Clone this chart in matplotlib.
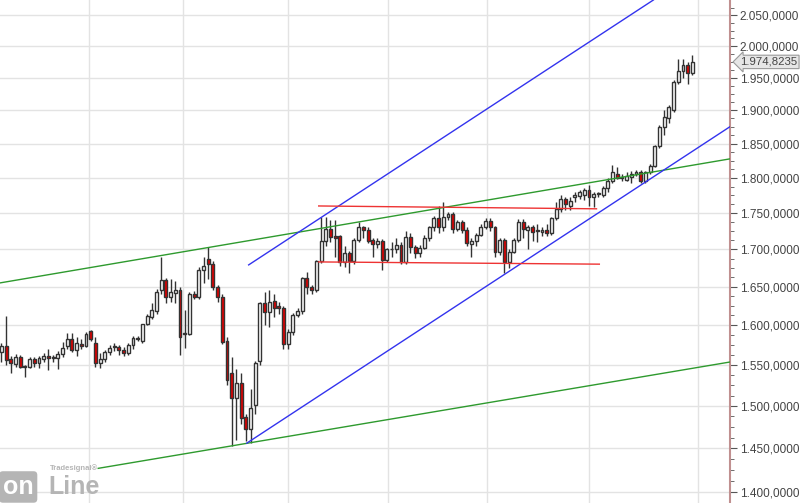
import matplotlib
matplotlib.use("Agg")
import matplotlib.pyplot as plt
from matplotlib.ticker import FixedLocator, FuncFormatter, NullFormatter
import numpy as np

# daily candles: open, high, low, close
opens = [1566, 1574, 1557, 1551, 1560, 1549, 1548, 1557, 1552, 1557, 1561, 1560, 1559, 1564, 1574, 1583, 1568, 1576, 1574, 1593,
         1578, 1552, 1557, 1566, 1573, 1572, 1569, 1565, 1575, 1584, 1580, 1601, 1611, 1618, 1645, 1659, 1636, 1642, 1645, 1590,
         1589, 1641, 1637, 1672, 1687, 1680, 1650, 1636, 1580, 1540, 1510, 1528, 1487, 1473, 1501, 1555, 1628, 1617, 1631, 1625,
         1622, 1576, 1591, 1613, 1618, 1661, 1649, 1645, 1684, 1711, 1728, 1718, 1718, 1683, 1695, 1684, 1713, 1730, 1727, 1713,
         1707, 1711, 1685, 1700, 1701, 1706, 1683, 1717, 1703, 1695, 1702, 1715, 1730, 1743, 1730, 1745, 1749, 1728, 1737, 1726,
         1707, 1711, 1720, 1731, 1739, 1730, 1697, 1713, 1683, 1697, 1713, 1738, 1727, 1731, 1726, 1724, 1726, 1722, 1743, 1756,
         1770, 1760, 1772, 1774, 1775, 1782, 1772, 1778, 1775, 1785, 1796, 1806, 1801, 1797, 1801, 1806, 1808, 1796, 1808, 1817,
         1846, 1875, 1888, 1900, 1943, 1960, 1970, 1958]
highs = [1578, 1612, 1561, 1563, 1562, 1550, 1560, 1560, 1561, 1565, 1570, 1562, 1567, 1579, 1590, 1590, 1585, 1583, 1591, 1594,
         1585, 1565, 1568, 1575, 1578, 1575, 1572, 1578, 1586, 1586, 1602, 1615, 1628, 1647, 1690, 1662, 1660, 1657, 1650, 1620,
         1643, 1644, 1676, 1690, 1703, 1684, 1652, 1640, 1585, 1560, 1545, 1540, 1490, 1520, 1555, 1630, 1643, 1645, 1640, 1630,
         1625, 1595, 1616, 1622, 1663, 1670, 1652, 1686, 1745, 1745, 1740, 1740, 1720, 1705, 1698, 1716, 1738, 1732, 1730, 1716,
         1715, 1714, 1702, 1710, 1715, 1710, 1725, 1722, 1706, 1706, 1720, 1732, 1746, 1760, 1765, 1752, 1752, 1740, 1740, 1730,
         1715, 1722, 1735, 1743, 1743, 1732, 1716, 1716, 1700, 1716, 1742, 1742, 1734, 1734, 1735, 1730, 1735, 1745, 1765, 1775,
         1773, 1772, 1780, 1782, 1786, 1790, 1780, 1780, 1788, 1800, 1818, 1815, 1806, 1808, 1810, 1812, 1812, 1810, 1820, 1848,
         1878, 1900, 1908, 1946, 1980, 1980, 1975, 1985]
lows = [1553, 1550, 1540, 1548, 1546, 1535, 1546, 1548, 1546, 1553, 1544, 1553, 1545, 1560, 1570, 1566, 1561, 1570, 1572, 1580,
        1547, 1546, 1554, 1562, 1567, 1562, 1561, 1562, 1570, 1580, 1578, 1600, 1608, 1615, 1640, 1628, 1630, 1628, 1562, 1571,
        1587, 1634, 1634, 1655, 1660, 1645, 1630, 1576, 1525, 1453, 1460, 1478, 1458, 1456, 1490, 1550, 1600, 1598, 1610, 1615,
        1570, 1570, 1588, 1610, 1615, 1640, 1640, 1643, 1682, 1705, 1710, 1690, 1678, 1676, 1668, 1680, 1710, 1715, 1708, 1690,
        1702, 1672, 1683, 1690, 1695, 1680, 1680, 1695, 1688, 1690, 1700, 1712, 1725, 1722, 1725, 1740, 1722, 1725, 1722, 1705,
        1690, 1705, 1718, 1728, 1725, 1690, 1693, 1668, 1675, 1695, 1710, 1715, 1700, 1712, 1710, 1718, 1718, 1720, 1740, 1752,
        1755, 1755, 1765, 1770, 1768, 1760, 1758, 1772, 1773, 1780, 1793, 1798, 1796, 1795, 1792, 1802, 1793, 1793, 1805, 1815,
        1844, 1862, 1880, 1898, 1940, 1950, 1940, 1955]
closes = [1574, 1556, 1552, 1560, 1548, 1548, 1557, 1552, 1559, 1561, 1558, 1558, 1564, 1571, 1583, 1568, 1578, 1574, 1589, 1583,
          1552, 1557, 1566, 1571, 1572, 1568, 1565, 1575, 1584, 1582, 1601, 1612, 1620, 1643, 1659, 1636, 1643, 1645, 1585, 1589,
          1641, 1637, 1672, 1678, 1680, 1650, 1636, 1579, 1531, 1510, 1528, 1486, 1473, 1497, 1552, 1628, 1617, 1630, 1622, 1622,
          1576, 1591, 1613, 1618, 1661, 1649, 1646, 1684, 1712, 1728, 1717, 1716, 1683, 1695, 1684, 1713, 1730, 1727, 1712, 1707,
          1711, 1685, 1700, 1701, 1706, 1683, 1717, 1703, 1695, 1702, 1715, 1730, 1743, 1730, 1745, 1749, 1728, 1737, 1726, 1708,
          1711, 1720, 1731, 1739, 1730, 1697, 1713, 1683, 1697, 1713, 1738, 1728, 1731, 1724, 1725, 1726, 1722, 1743, 1756, 1770,
          1763, 1767, 1776, 1780, 1782, 1772, 1777, 1777, 1786, 1796, 1808, 1800, 1800, 1802, 1806, 1808, 1796, 1808, 1817, 1846,
          1875, 1890, 1905, 1943, 1960, 1970, 1958, 1975]
last_price = 1974.8235

# trend lines: (x0, y0, x1, y1) in bar index / price
green_lines = [(-0.3, 1655, 155.4, 1828), (20.6, 1427, 155.4, 1554)]
blue_lines = [(52.6, 1679, 138.7, 2075), (52.2, 1456, 155.4, 1877)]
red_lines = [(67.5, 1760, 126.6, 1756), (67.5, 1683, 127.2, 1680)]

month_lines = [18.7, 38.7, 60.9, 82.2, 103.3, 125.1, 148.1]
y_ticks = list(range(1400, 2051, 50))


def de_fmt(v, p=None):
    return f"{v:,.4f}".replace(",", "X").replace(".", ",").replace("X", ".")


plt.rcParams["font.family"] = ["Liberation Sans", "DejaVu Sans"]
fig = plt.figure(figsize=(8, 5.03), dpi=100)
ax = fig.add_axes([0, 0, 730 / 800, 1])
ax.set_yscale("log")

idx = np.arange(len(opens))
o = np.array(opens, float)
c = np.array(closes, float)
up = c >= o
ax.vlines(idx, lows, highs, color="#333333", linewidth=1, zorder=3)
body_lo = np.minimum(o, c)
body_h = np.maximum(np.abs(c - o), 0.8)
ax.bar(idx, body_h, bottom=body_lo, width=0.62, color=np.where(up, "white", "#e00000"),
       edgecolor="#333333", linewidth=1, zorder=4)

for x0, y0, x1, y1 in green_lines:
    ax.plot([x0, x1], [y0, y1], color="#2e9a2e", lw=1, zorder=5)
for x0, y0, x1, y1 in blue_lines:
    ax.plot([x0, x1], [y0, y1], color="#3333ee", lw=1, zorder=5)
for x0, y0, x1, y1 in red_lines:
    ax.plot([x0, x1], [y0, y1], color="#ee3333", lw=1, zorder=5)

ax.set_xlim(-0.3, 155.0)
ax.set_ylim(1388, 2075)
ax.set_xticks(month_lines)
ax.set_xticklabels([])
ax.yaxis.set_major_locator(FixedLocator(y_ticks))
ax.yaxis.set_minor_locator(FixedLocator(np.arange(1387.5, 2075, 12.5)))
ax.yaxis.set_major_formatter(FuncFormatter(de_fmt))
ax.yaxis.set_minor_formatter(NullFormatter())
ax.yaxis.tick_right()
ax.tick_params(axis="y", which="major", length=5, color="#555555", labelsize=8.5,
               labelcolor="#444444", pad=2, direction="out")
ax.tick_params(axis="y", which="minor", length=3, color="#555555")
ax.tick_params(axis="x", length=0)
ax.grid(True, which="major", color="#e3e3e3", lw=1)
for s in ["top", "bottom", "left"]:
    ax.spines[s].set_visible(False)
ax.spines["right"].set_color("#c09090")
ax.spines["right"].set_linewidth(1.5)

ax.text(1.014, last_price, de_fmt(last_price),
        transform=ax.get_yaxis_transform(), va="center", ha="left", fontsize=8.2, color="#444444",
        bbox=dict(boxstyle="larrow,pad=0.15", fc="#e6e6e6", ec="#999999", lw=0.8), zorder=10)

# logo
ax.text(0.004, 0.008, "on", transform=ax.transAxes, fontsize=18, fontweight="bold", color="white",
        va="bottom", ha="left", bbox=dict(boxstyle="round,pad=0.15", fc="#b5b5b5", ec="none"))
ax.text(0.066, 0.008, "Line", transform=ax.transAxes, fontsize=18, fontweight="bold", color="#b5b5b5",
        va="bottom", ha="left")
ax.text(0.068, 0.062, "Tradesignal\u00ae", transform=ax.transAxes, fontsize=5.5, fontweight="bold",
        color="#b5b5b5", va="bottom", ha="left")

fig.savefig("out.png", dpi=100)
